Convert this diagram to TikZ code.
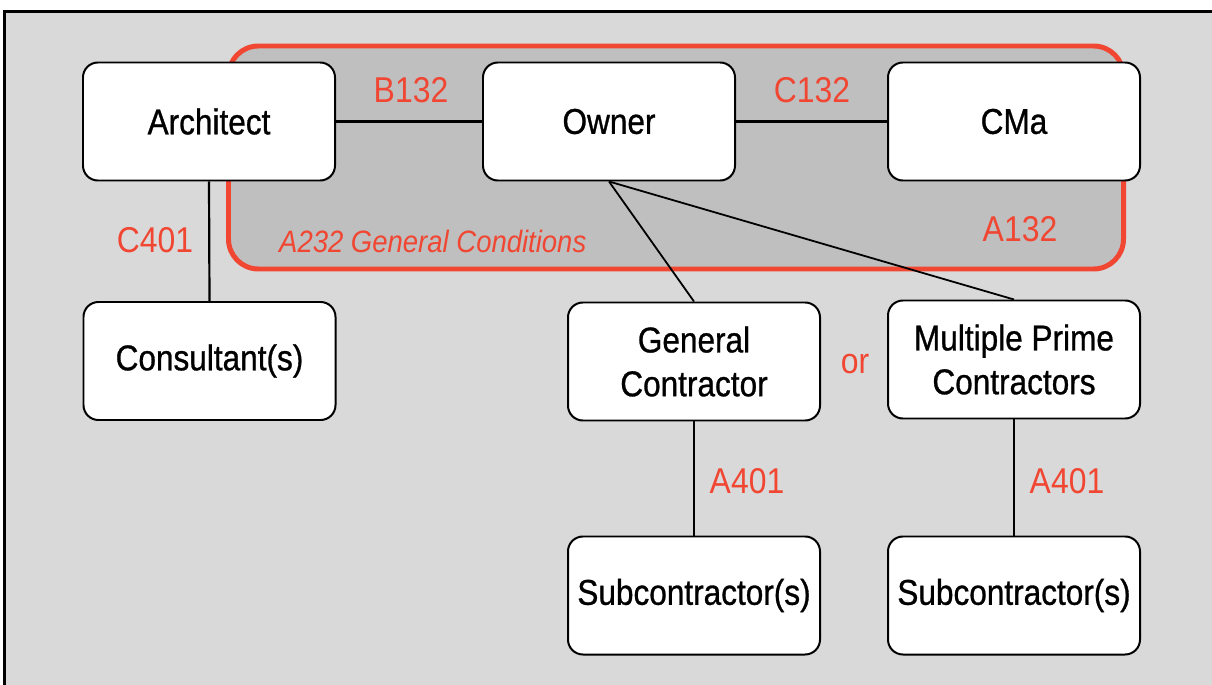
\documentclass[tikz,border=0pt]{standalone}
\usepackage{fontspec}
\setmainfont[FakeStretch=0.89]{Liberation Sans}
\newfontfamily\boxfont[FakeStretch=0.88, FakeBold=0.8]{Liberation Sans}
\definecolor{bggray}{HTML}{D9D9D9}
\definecolor{zonegray}{HTML}{BFBFBF}
\definecolor{aiared}{HTML}{F04632}
\tikzset{
  party/.style={draw=black, line width=2pt, fill=white, rounded corners=15pt,
    minimum width=252bp, minimum height=118bp, inner sep=0pt, align=center,
    font=\boxfont\fontsize{36}{44}\selectfont},
  link/.style={draw=black, line width=2.2pt},
  doclabel/.style={text=aiared, anchor=base, inner sep=0pt, font=\fontsize{36}{44}\selectfont}
}
\begin{document}
\begin{tikzpicture}[x=1bp,y=-1bp]
\useasboundingbox (0,0) rectangle (1212,685);
\fill[white] (-20,-20) rectangle (1240,710);
\fill[bggray] (4.5,11.5) rectangle (1240,710);
\draw[line width=2.5pt] (1240,11.5) -- (4.5,11.5) -- (4.5,710);
% A232 zone
\draw[draw=aiared, fill=zonegray, line width=5pt, rounded corners=30pt] (228.5,46) rectangle (1123.5,269);
% nodes
\node[party] (arch) at (209,121.5) {Architect};
\node[party] (own) at (609,121.5) {Owner};
\node[party] (cma) at (1014,121.5) {CMa};
\node[party] (cons) at (209.5,361) {Consultant(s)};
\node[party] (gc) at (694,361.5) {General\\Contractor};
\node[party] (mpc) at (1014,359.5) {Multiple Prime\\Contractors};
\node[party] (sub1) at (694,595.5) {Subcontractor(s)};
\node[party] (sub2) at (1014,595.5) {Subcontractor(s)};
% connectors
\path[link] (arch.east) -- (own.west);
\path[link] (own.east) -- (cma.west);
\path[link] (arch.south) -- (cons.north);
\path[link, line width=1.8pt] (own.south) -- (gc.north);
\path[link, line width=1.8pt] (own.south) -- (mpc.north);
\path[link] (gc.south) -- (sub1.north);
\path[link] (mpc.south) -- (sub2.north);
% labels
\node[doclabel] (lb132) at (411,103) {B132};
\node[doclabel] (lc132) at (812,103) {C132};
\node[doclabel] (lc401) at (155,252) {C401};
\node[doclabel, anchor=base west, font=\fontsize{31}{38}\selectfont\itshape] (la232) at (279,252) {A232 General Conditions};
\node[doclabel] (la132) at (1020,242) {A132};
\node[doclabel] (lor) at (855,373) {or};
\node[doclabel] (la401a) at (747,493) {A401};
\node[doclabel] (la401b) at (1067,493) {A401};
\end{tikzpicture}
\end{document}
